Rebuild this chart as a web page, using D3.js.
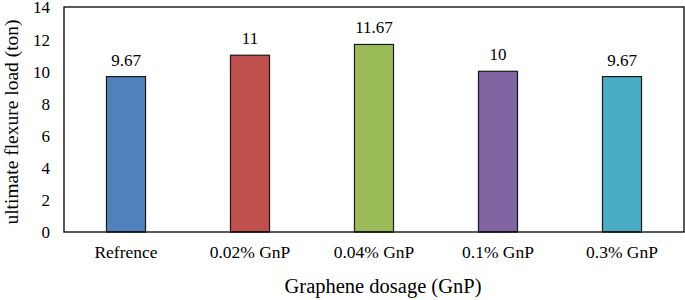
<!DOCTYPE html>
<html>
<head>
<meta charset="utf-8">
<script src="https://cdn.jsdelivr.net/npm/d3@7"></script>
</head>
<body style="margin:0; background:#fff">
<svg width="685" height="300"></svg>
<script>
var categories = ["Refrence", "0.02% GnP", "0.04% GnP", "0.1% GnP", "0.3% GnP"];
var loads = [9.67, 11, 11.67, 10, 9.67];
var labels = ["9.67", "11", "11.67", "10", "9.67"];
var colors = ["#4F81BD", "#C0504D", "#9BBB59", "#8064A2", "#4BACC6"];
var yTicks = [0, 2, 4, 6, 8, 10, 12, 14];

var FONT = "'Liberation Serif'";

var svg = d3.select("svg"),
  margin = { top: 7, right: 1, bottom: 68, left: 64 },
  width = 685 - margin.left - margin.right,
  height = 300 - margin.top - margin.bottom;

var g = svg.append("g").attr("transform", "translate(" + margin.left + "," + margin.top + ")");

var x = d3.scaleBand().domain(categories).range([0, width]).paddingInner(0.685).paddingOuter(0.3425);
var y = d3.scaleLinear().domain([0, 14]).range([height, 0]);

// y axis labels, no tick marks
var yAxis = g.append("g").call(d3.axisLeft(y).tickValues(yTicks).tickSize(0).tickPadding(14));
yAxis.select(".domain").remove();
yAxis.selectAll("text")
  .attr("font-family", FONT)
  .attr("font-size", 17)
  .attr("fill", "#000")
  .attr("dy", "0.35em");

// category labels
var xAxis = g.append("g").attr("transform", "translate(0," + height + ")")
  .call(d3.axisBottom(x).tickSize(0).tickPadding(14));
xAxis.select(".domain").remove();
xAxis.selectAll("text")
  .attr("font-family", FONT)
  .attr("font-size", 17.5)
  .attr("fill", "#000");

// bars
g.selectAll("rect.bar")
  .data(loads)
  .enter()
  .append("rect")
  .attr("class", "bar")
  .attr("x", (d, i) => x(categories[i]))
  .attr("y", (d) => y(d))
  .attr("width", x.bandwidth())
  .attr("height", (d) => height - y(d))
  .attr("fill", (d, i) => colors[i])
  .attr("stroke", "#1a1a1a")
  .attr("stroke-width", 1.2);

// value labels
g.selectAll("text.val")
  .data(loads)
  .enter()
  .append("text")
  .attr("class", "val")
  .attr("x", (d, i) => x(categories[i]) + x.bandwidth() / 2)
  .attr("y", (d) => y(d) - 11)
  .attr("text-anchor", "middle")
  .attr("font-family", FONT)
  .attr("font-size", 17)
  .text((d, i) => labels[i]);

// plot frame
g.append("rect")
  .attr("width", width)
  .attr("height", height)
  .attr("fill", "none")
  .attr("stroke", "#000")
  .attr("stroke-width", 1.3);

// axis titles
svg.append("text")
  .attr("x", margin.left + width / 2 + 9)
  .attr("y", 293)
  .attr("text-anchor", "middle")
  .attr("font-family", FONT)
  .attr("font-size", 20.5)
  .text("Graphene dosage (GnP)");

svg.append("text")
  .attr("transform", "translate(18,122) rotate(-90)")
  .attr("text-anchor", "middle")
  .attr("font-family", FONT)
  .attr("font-size", 19.5)
  .text("ultimate flexure load (ton)");
</script>
</body>
</html>
